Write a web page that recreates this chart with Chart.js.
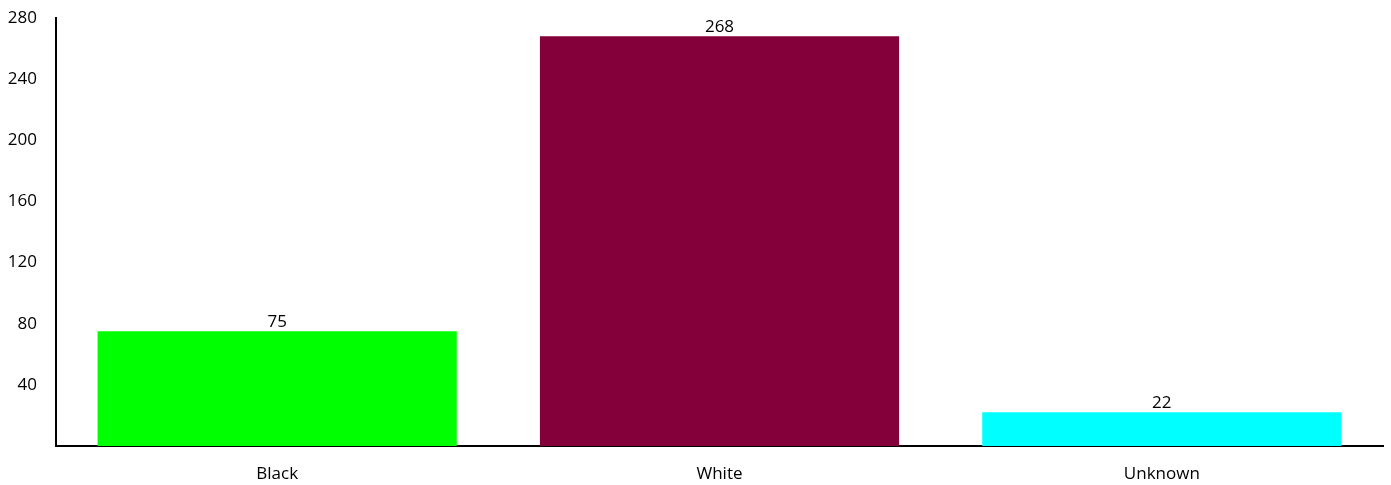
<!DOCTYPE html>
<html>
<head>
<meta charset="utf-8">
<script src="https://cdn.jsdelivr.net/npm/chart.js@4/dist/chart.umd.min.js"></script>
<style>
  html, body { margin: 0; padding: 0; background: #fff; }
  #wrap { width: 1391px; height: 485px; }
</style>
</head>
<body>
<div id="wrap"><canvas id="chart"></canvas></div>
<script>
const categories = ['Black', 'White', 'Unknown'];
const counts = [75, 268, 22];
const barColors = ['#00FF00', '#83003A', '#00FFFF'];
const yTicks = [0, 40, 80, 120, 160, 200, 240, 280];

const FONT = '"Open Sans", Lato, sans-serif';

// draws the count above each bar
const valueLabels = {
    id: 'valueLabels',
    afterDatasetsDraw(chart) {
        const ctx = chart.ctx;
        const meta = chart.getDatasetMeta(0);
        ctx.save();
        ctx.font = '17px ' + FONT;
        ctx.fillStyle = '#000';
        ctx.textAlign = 'center';
        ctx.textBaseline = 'bottom';
        meta.data.forEach((bar, i) => {
            ctx.fillText(String(counts[i]), bar.x, bar.y - 1);
        });
        ctx.restore();
    }
};

new Chart(document.getElementById('chart'), {
    type: 'bar',
    data: {
        labels: categories,
        datasets: [{
            data: counts,
            backgroundColor: barColors,
            borderWidth: 0,
            categoryPercentage: 1,
            barPercentage: 0.812
        }]
    },
    options: {
        responsive: true,
        maintainAspectRatio: false,
        animation: false,
        layout: { padding: { top: 18, right: 8, left: 0, bottom: 0 } },
        plugins: {
            legend: { display: false },
            tooltip: { enabled: false }
        },
        scales: {
            x: {
                grid: { display: false },
                border: { display: true, color: '#000', width: 2 },
                ticks: { color: '#000', font: { family: FONT, size: 17 }, padding: 10, maxRotation: 0 },
                afterFit(scale) { scale.height = 39; }
            },
            y: {
                min: 0,
                max: 280,
                grid: { display: false },
                border: { display: true, color: '#000', width: 2 },
                afterBuildTicks(scale) {
                    scale.ticks = yTicks.map(v => ({ value: v }));
                },
                ticks: {
                    color: '#000',
                    font: { family: FONT, size: 17 },
                    padding: 11,
                    callback: v => (v === 0 ? null : v)
                },
                afterFit(scale) {
                    scale.width = 56;
                    scale.paddingTop = 0;
                    scale.paddingBottom = 0;
                }
            }
        }
    },
    plugins: [valueLabels]
});
</script>
</body>
</html>
